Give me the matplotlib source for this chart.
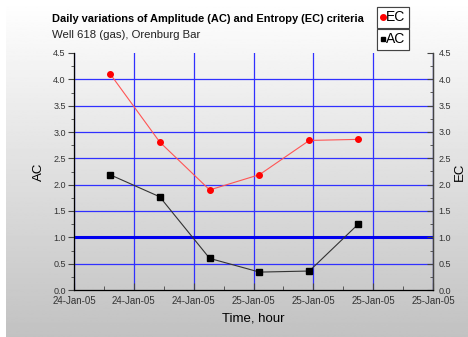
import numpy as np
import matplotlib
matplotlib.use("Agg")
import matplotlib.pyplot as plt
import matplotlib.dates as mdates
from matplotlib.lines import Line2D
from datetime import datetime, timedelta

plt.rcParams['font.family'] = ['Liberation Sans', 'DejaVu Sans']

# data
start = datetime(2005, 1, 24, 12, 0)
hours = [2.4, 5.73, 9.07, 12.4, 15.73, 19.0]
ec_values = [4.11, 2.81, 1.90, 2.19, 2.84, 2.86]
ac_values = [2.19, 1.77, 0.60, 0.34, 0.36, 1.25]
threshold = 1.0
grid_levels = [0.5, 1.5, 2.0, 2.5, 3.0, 3.5, 4.0]

times = [start + timedelta(hours=h) for h in hours]

fig = plt.figure(figsize=(4.68, 3.37), dpi=100)
fig.patch.set_facecolor('white')

# gradient background (white at top, grey at bottom)
bg = fig.add_axes([6 / 468, 0, 1 - 6 / 468, 1], zorder=-10)
grad = np.linspace(1.0, 0.76, 256).reshape(-1, 1)
bg.imshow(grad, aspect='auto', cmap='gray', vmin=0, vmax=1,
          extent=[0, 1, 0, 1], origin='upper')
bg.axis('off')

ax = fig.add_axes([74 / 468, 1 - 290 / 337, (433 - 74) / 468, (290 - 53) / 337])
ax.patch.set_alpha(0)

ax.set_ylim(0, 4.5)
ax.set_xlim(start, start + timedelta(hours=24))

# grid
ax.hlines(grid_levels, 0, 1, transform=ax.get_yaxis_transform(),
          colors='#3030ff', lw=0.9, zorder=1)
ax.axhline(threshold, color='#0000ee', lw=2.2, zorder=2)
ax.xaxis.set_major_locator(mdates.HourLocator(byhour=range(0, 24, 4)))
ax.xaxis.set_minor_locator(mdates.HourLocator(byhour=range(2, 24, 4)))
ax.xaxis.set_major_formatter(mdates.DateFormatter('%d-%b-%y'))
ax.grid(axis='x', which='major', color='#3030ff', lw=0.9, zorder=1)

ax.plot(times, ec_values, '-', color='#ff5555', lw=0.8, zorder=3)
ax.plot(times, ec_values, 'o', color='red', ms=4, zorder=4)
ax.plot(times, ac_values, '-', color='#333333', lw=0.8, zorder=3)
ax.plot(times, ac_values, 's', color='black', ms=4, zorder=4)

ax.set_yticks(np.arange(0, 4.51, 0.5))
ax.set_yticks(np.arange(0.25, 4.5, 0.5), minor=True)
ax.yaxis.set_major_formatter(matplotlib.ticker.FormatStrFormatter('%.1f'))

for s in ['left', 'bottom', 'right']:
    ax.spines[s].set_color('#444444')
    ax.spines[s].set_linewidth(0.9)
ax.spines['top'].set_visible(False)

ax.tick_params(axis='x', which='major', direction='in', length=5, labelsize=7,
               colors='#444444', labelcolor='#333333', pad=4)
ax.tick_params(axis='x', which='minor', direction='in', length=3, colors='#444444')
ax.tick_params(axis='y', which='major', direction='out', length=4, labelsize=6.5,
               colors='#444444', labelcolor='#333333', pad=2)
ax.tick_params(axis='y', which='minor', direction='out', length=2, colors='#444444')

ax2 = ax.twinx()
ax2.set_ylim(0, 4.5)
ax2.set_yticks(np.arange(0, 4.51, 0.5))
ax2.set_yticks(np.arange(0.25, 4.5, 0.5), minor=True)
ax2.yaxis.set_major_formatter(matplotlib.ticker.FormatStrFormatter('%.1f'))
ax2.spines['top'].set_visible(False)
ax2.spines['right'].set_color('#444444')
ax2.spines['right'].set_linewidth(0.9)
ax2.tick_params(axis='y', which='major', direction='in', length=4, labelsize=6.5,
                colors='#444444', labelcolor='#333333', pad=4)
ax2.tick_params(axis='y', which='minor', direction='in', length=2, colors='#444444')

ax.set_ylabel('AC', fontsize=9.5, labelpad=6)
ax2.set_ylabel('EC', fontsize=9.5, labelpad=2)
ax.set_xlabel('Time, hour', fontsize=9.5, labelpad=5)

fig.text(52 / 468, 1 - 22 / 337, 'Daily variations of Amplitude (AC) and Entropy (EC) criteria',
         fontsize=7.9, fontweight='bold', va='baseline')
fig.text(52 / 468, 1 - 38 / 337, 'Well 618 (gas), Orenburg Bar',
         fontsize=8.2, va='baseline', color='#222222')

# two separate legend boxes
h_ec = Line2D([], [], color='red', marker='o', ls='none', ms=4)
h_ac = Line2D([], [], color='black', marker='s', ls='none', ms=3.5)
for h, lab, y in [(h_ec, 'EC', 1 - 7 / 337), (h_ac, 'AC', 1 - 29 / 337)]:
    lg = fig.legend([h], [lab], loc='upper left', bbox_to_anchor=(377 / 468, y),
                    fontsize=10, handlelength=0.3, handletextpad=0.1,
                    borderpad=0.25, borderaxespad=0, fancybox=False,
                    framealpha=1, edgecolor='#444444')
    lg.get_frame().set_linewidth(0.8)
    fig.add_artist(lg)

fig.savefig('out.png', dpi=100)
